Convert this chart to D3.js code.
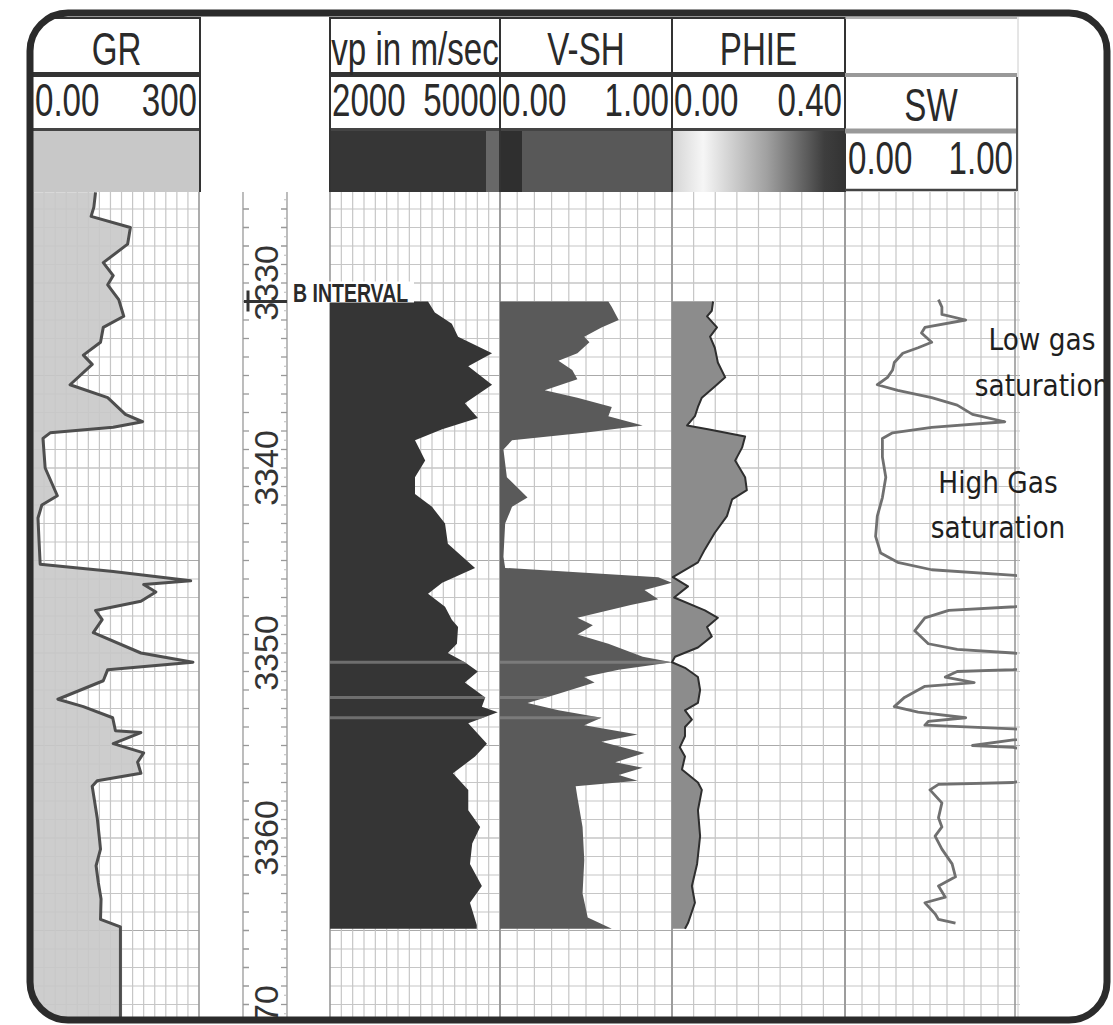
<!DOCTYPE html>
<html>
<head>
<meta charset="utf-8">
<style>
  body { margin: 0; background: #fff; }
  svg { display: block; }
</style>
</head>
<body>
<svg id="chart" width="1113" height="1025"></svg>
<script src="https://cdn.jsdelivr.net/npm/d3@7"></script>
<script>
// ---- data (depth in m, value in track units) ----
const depthLabels = [3330, 3340, 3350, 3360, 3370];
const trackTitles = ["GR", "vp in m/sec", "V-SH", "PHIE", "SW"];
const scaleLabels = [["0.00", "300"], ["2000", "5000"], ["0.00", "1.00"], ["0.00", "0.40"], ["0.00", "1.00"]];
const trackDomains = [[0, 300], [2000, 5000], [0, 1], [0, 0.4], [0, 1]];

const grLog = [
  [3325.1, 113], [3325.9, 110], [3326.4, 105], [3327.0, 176], [3327.9, 171], [3328.9, 127], [3329.6, 145],
  [3330.1, 135], [3330.9, 155], [3331.8, 164], [3332.4, 127], [3333.2, 122], [3333.9, 91], [3334.4, 107],
  [3335.5, 67], [3336.2, 135], [3337.1, 167], [3337.5, 198], [3337.8, 145], [3338.1, 31], [3338.4, 18],
  [3339.2, 20], [3340.0, 22], [3341.5, 44], [3342.0, 16], [3342.7, 9], [3344.0, 11], [3345.2, 13],
  [3345.6, 145], [3346.1, 285], [3346.3, 200], [3346.7, 222], [3347.2, 195], [3347.7, 113], [3348.2, 125],
  [3348.9, 109], [3350.0, 195], [3350.5, 289], [3350.9, 135], [3351.5, 127], [3352.5, 45], [3352.9, 91],
  [3353.5, 144], [3354.2, 149], [3354.3, 195], [3354.9, 145], [3355.4, 200], [3355.9, 189], [3356.5, 195],
  [3356.9, 116], [3357.2, 107], [3358.9, 116], [3360.0, 120], [3360.6, 122], [3361.5, 114], [3362.4, 118],
  [3363.3, 123], [3364.4, 122], [3364.8, 158], [3370.0, 158]
];

const vpLog = [
  [3331.0, 3730], [3331.6, 3850], [3332.2, 4150], [3332.9, 4260], [3333.8, 4860], [3334.5, 4440],
  [3335.5, 4860], [3336.5, 4380], [3337.3, 4610], [3337.9, 3980], [3338.5, 3500], [3339.6, 3680],
  [3340.5, 3500], [3341.4, 3500], [3342.1, 3800], [3343.0, 4030], [3344.1, 4080], [3345.4, 4560],
  [3346.2, 3980], [3346.8, 3730], [3347.5, 4030], [3348.2, 4150], [3348.6, 4260], [3349.5, 4240],
  [3350.0, 4080], [3350.5, 4380], [3351.0, 4610], [3351.6, 4380], [3352.4, 4740], [3352.9, 4680],
  [3353.2, 4960], [3353.8, 4440], [3354.9, 4770], [3355.6, 4560], [3356.5, 4170], [3357.4, 4440],
  [3358.5, 4440], [3359.4, 4650], [3360.3, 4510], [3361.4, 4470], [3362.6, 4680], [3363.5, 4470],
  [3364.7, 4590], [3364.9, 4590]
];

const vshLog = [
  [3331.0, 0.63], [3331.3, 0.65], [3332.0, 0.69], [3332.4, 0.59], [3332.9, 0.49], [3333.2, 0.52],
  [3333.8, 0.45], [3334.2, 0.34], [3334.7, 0.42], [3335.2, 0.45], [3335.8, 0.26], [3336.2, 0.45],
  [3336.7, 0.65], [3337.2, 0.63], [3337.7, 0.83], [3338.1, 0.49], [3338.5, 0.07], [3339.0, 0.02],
  [3340.5, 0.04], [3341.6, 0.16], [3342.1, 0.07], [3343.0, 0.03], [3344.8, 0.02], [3345.4, 0.03],
  [3345.9, 0.92], [3346.2, 1.00], [3346.6, 0.84], [3347.1, 0.92], [3347.4, 0.76], [3348.1, 0.45],
  [3348.5, 0.54], [3349.0, 0.45], [3349.5, 0.63], [3350.2, 0.83], [3350.5, 1.00], [3350.9, 0.69],
  [3351.3, 0.49], [3351.6, 0.55], [3352.2, 0.34], [3352.7, 0.16], [3353.1, 0.34], [3353.5, 0.59],
  [3353.9, 0.49], [3354.4, 0.80], [3354.8, 0.59], [3355.4, 0.84], [3355.9, 0.67], [3356.2, 0.83],
  [3356.6, 0.69], [3356.9, 0.80], [3357.2, 0.44], [3357.8, 0.45], [3359.4, 0.48], [3361.2, 0.49],
  [3363.0, 0.48], [3364.3, 0.51], [3364.9, 0.65]
];

const phieLog = [
  [3331.0, 0.095], [3331.5, 0.092], [3331.8, 0.081], [3332.4, 0.104], [3332.9, 0.088], [3333.5, 0.099],
  [3334.3, 0.106], [3335.1, 0.123], [3335.6, 0.099], [3336.2, 0.069], [3336.7, 0.060], [3337.2, 0.053],
  [3337.7, 0.035], [3337.9, 0.083], [3338.3, 0.169], [3338.9, 0.162], [3339.6, 0.146], [3340.5, 0.169],
  [3341.2, 0.173], [3341.7, 0.139], [3342.6, 0.127], [3343.5, 0.099], [3344.4, 0.076], [3345.1, 0.060],
  [3345.9, 0.002], [3346.4, 0.037], [3347.0, 0.005], [3347.7, 0.076], [3348.1, 0.106], [3348.6, 0.081],
  [3349.1, 0.092], [3349.7, 0.060], [3350.2, 0.007], [3350.5, 0.000], [3350.8, 0.030], [3351.3, 0.060],
  [3352.0, 0.065], [3352.7, 0.060], [3353.1, 0.030], [3353.6, 0.046], [3354.0, 0.030], [3354.5, 0.030],
  [3355.1, 0.018], [3355.6, 0.030], [3356.3, 0.023], [3357.0, 0.060], [3357.4, 0.069], [3358.5, 0.060],
  [3359.9, 0.065], [3361.4, 0.058], [3362.6, 0.046], [3363.5, 0.053], [3364.6, 0.037], [3364.9, 0.030]
];

// values above 1 run off the right edge of the track
const swLog = [
  [3330.9, 0.55], [3331.3, 0.57], [3331.7, 0.57], [3332.0, 0.71], [3332.4, 0.47], [3332.7, 0.45],
  [3333.2, 0.51], [3333.5, 0.43], [3333.8, 0.34], [3334.3, 0.29], [3334.7, 0.28], [3335.1, 0.25],
  [3335.5, 0.19], [3335.8, 0.31], [3336.2, 0.51], [3336.6, 0.66], [3337.1, 0.75], [3337.5, 0.94],
  [3337.8, 0.51], [3338.1, 0.28], [3338.4, 0.22], [3339.4, 0.22], [3340.5, 0.24], [3341.6, 0.22],
  [3342.6, 0.19], [3343.7, 0.18], [3344.6, 0.21], [3345.1, 0.31], [3345.5, 0.51], [3345.8, 1.00],
  [3346.6, 1.60], [3347.5, 1.00], [3347.7, 0.61], [3348.1, 0.47], [3348.8, 0.41], [3349.5, 0.49],
  [3349.8, 0.66], [3350.0, 0.99], [3350.5, 1.50], [3350.9, 0.99], [3351.0, 0.66], [3351.3, 0.59],
  [3351.6, 0.76], [3351.8, 0.47], [3352.4, 0.35], [3352.9, 0.29], [3353.2, 0.43], [3353.5, 0.71],
  [3353.7, 0.49], [3353.9, 0.47], [3354.1, 0.99], [3354.4, 1.40], [3354.7, 0.99], [3355.0, 0.75],
  [3355.1, 0.99], [3356.1, 1.50], [3357.0, 0.99], [3357.1, 0.55], [3357.4, 0.50], [3358.1, 0.57],
  [3358.9, 0.55], [3359.4, 0.57], [3359.9, 0.53], [3360.6, 0.57], [3361.4, 0.63], [3362.1, 0.65],
  [3362.6, 0.55], [3363.2, 0.59], [3363.5, 0.47], [3364.1, 0.53], [3364.4, 0.55], [3364.6, 0.65]
];

const stripeDepths = [3350.5, 3352.4, 3353.5];
const markerDepth = 3331.0;
const markerLabel = "B INTERVAL";
const notes = [["Low gas", "saturation"], ["High Gas", "saturation"]];

// ---- layout ----
const trackX = [[33, 199], [330, 500], [500, 672], [672, 845], [845, 1015]];
const dataTop = 192, dataBottom = 1020;
const headFont = "'Liberation Sans', Arial, sans-serif";

const svg = d3.select("#chart");
const defs = svg.append("defs");

defs.append("clipPath").attr("id", "frameClip")
  .append("rect").attr("x", 30).attr("y", 13).attr("width", 1077).attr("height", 1007).attr("rx", 38);

const grad = defs.append("linearGradient").attr("id", "phieGrad");
[["0%", "#d4d4d4"], ["18%", "#f6f6f6"], ["55%", "#a0a0a0"], ["88%", "#3e3e3e"], ["100%", "#333"]]
  .forEach(([o, c]) => grad.append("stop").attr("offset", o).attr("stop-color", c));

const y = d3.scaleLinear().domain([3325, 3370]).range([190.5, 1023]);
const xs = trackX.map((r, i) => d3.scaleLinear().domain(trackDomains[i]).range(r));

const body = svg.append("g").attr("clip-path", "url(#frameClip)");

// grid
const grid = body.append("g");
const depthTicks = d3.range(3326, 3370);
trackX.forEach(([x0, x1], i) => {
  const right = i === 4 ? 1020 : x1;
  grid.selectAll(null).data(depthTicks).enter().append("line")
    .attr("x1", x0).attr("x2", right)
    .attr("y1", d => y(d)).attr("y2", d => y(d))
    .attr("stroke", d => d % 5 === 0 ? "#aaa" : "#c6c6c6").attr("stroke-width", 1.2);
  const vx = xs[i].ticks(10);
  grid.selectAll(null).data(vx).enter().append("line")
    .attr("x1", d => xs[i](d)).attr("x2", d => xs[i](d))
    .attr("y1", dataTop).attr("y2", dataBottom)
    .attr("stroke", (d, j) => (j === 0 || j === vx.length - 1) ? "#999" : "#c6c6c6")
    .attr("stroke-width", (d, j) => (j === 0 || j === vx.length - 1) ? 1.6 : 1.2);
});
body.append("line").attr("x1", 1018).attr("x2", 1018).attr("y1", 17).attr("y2", dataBottom)
  .attr("stroke", "#ccc").attr("stroke-width", 1);

// fills
function areaFor(i) {
  return d3.area().y(d => y(d[0])).x0(trackX[i][0]).x1(d => xs[i](d[1]));
}
function lineFor(i) {
  return d3.line().y(d => y(d[0])).x(d => xs[i](d[1]));
}

body.append("path").datum(grLog).attr("d", areaFor(0)).attr("fill", "#c8c8c8").attr("fill-opacity", 0.9);
body.append("path").datum(vpLog).attr("d", areaFor(1)).attr("fill", "#353535");
body.append("path").datum(vshLog).attr("d", areaFor(2)).attr("fill", "#5a5a5a");
body.append("path").datum(phieLog).attr("d", areaFor(3)).attr("fill", "#8c8c8c");

// light stripes through the vp / V-SH fills
[[1, vpLog], [2, vshLog]].forEach(([i, log]) => {
  defs.append("clipPath").attr("id", "fillClip" + i).append("path").datum(log).attr("d", areaFor(i));
  body.append("g").attr("clip-path", `url(#fillClip${i})`)
    .selectAll("line").data(stripeDepths).enter().append("line")
    .attr("x1", trackX[i][0]).attr("x2", trackX[i][1])
    .attr("y1", d => y(d)).attr("y2", d => y(d))
    .attr("stroke", "#8e8e8e").attr("stroke-width", 3).attr("opacity", 0.65);
});

// curves
body.append("path").datum(grLog).attr("d", lineFor(0)).attr("fill", "none")
  .attr("stroke", "#4e4e4e").attr("stroke-width", 3).attr("stroke-linejoin", "round");
body.append("path").datum(phieLog).attr("d", lineFor(3)).attr("fill", "none")
  .attr("stroke", "#2e2e2e").attr("stroke-width", 2).attr("stroke-linejoin", "round");
defs.append("clipPath").attr("id", "swClip")
  .append("rect").attr("x", 845).attr("y", dataTop).attr("width", 172).attr("height", dataBottom - dataTop);
body.append("path").datum(swLog).attr("d", lineFor(4)).attr("fill", "none")
  .attr("clip-path", "url(#swClip)")
  .attr("stroke", "#707070").attr("stroke-width", 2.8).attr("stroke-linejoin", "round");

// depth track
const dt = body.append("g");
[243, 287].forEach(x => dt.append("line").attr("x1", x).attr("x2", x)
  .attr("y1", dataTop).attr("y2", dataBottom).attr("stroke", "#999").attr("stroke-width", 1.3));
dt.selectAll(".tl").data(depthTicks).enter().append("line")
  .attr("x1", 243).attr("x2", 249).attr("y1", d => y(d)).attr("y2", d => y(d))
  .attr("stroke", "#999").attr("stroke-width", 1.3);
dt.selectAll(".tr").data(depthTicks).enter().append("line")
  .attr("x1", 281).attr("x2", 287).attr("y1", d => y(d)).attr("y2", d => y(d))
  .attr("stroke", "#999").attr("stroke-width", 1.3);
dt.selectAll(".tm").data(d3.range(3325.5, 3370, 0.5).filter(d => d % 1 !== 0)).enter().append("line")
  .attr("x1", 284).attr("x2", 287).attr("y1", d => y(d)).attr("y2", d => y(d))
  .attr("stroke", "#bbb").attr("stroke-width", 1);
dt.selectAll("text").data(depthLabels).enter().append("text")
  .attr("transform", d => `translate(278,${y(d)}) rotate(-90)`)
  .attr("text-anchor", "middle")
  .style("font", `34px ${headFont}`).attr("fill", "#333")
  .text(d => d);

// B interval marker
const my = y(markerDepth);
dt.append("line").attr("x1", 244).attr("x2", 287).attr("y1", my).attr("y2", my)
  .attr("stroke", "#333").attr("stroke-width", 3);
dt.append("line").attr("x1", 248).attr("x2", 248).attr("y1", my - 11).attr("y2", my + 10)
  .attr("stroke", "#333").attr("stroke-width", 3);
dt.append("rect").attr("x", 290).attr("y", my - 20).attr("width", 124).attr("height", 21).attr("fill", "#fff");
dt.append("text").attr("transform", `translate(293,${my}) scale(0.75,1)`)
  .style("font", `bold 26px ${headFont}`).attr("fill", "#2a2a2a").text(markerLabel);

// header
const head = body.append("g");
function txt(x, yy, s, anchor, size, sx) {
  head.append("text").attr("transform", `translate(${x},${yy}) scale(${sx},1)`)
    .attr("text-anchor", anchor).style("font", `${size}px ${headFont}`)
    .attr("fill", "#2a2a2a").text(s);
}
function hline(x0, x1, yy, w, c) {
  head.append("line").attr("x1", x0).attr("x2", x1).attr("y1", yy).attr("y2", yy)
    .attr("stroke", c).attr("stroke-width", w);
}
function vline(x, y0, y1, w, c) {
  head.append("line").attr("x1", x).attr("x2", x).attr("y1", y0).attr("y2", y1)
    .attr("stroke", c).attr("stroke-width", w);
}

// swatches
head.append("rect").attr("x", 33).attr("y", 131).attr("width", 167).attr("height", 61).attr("fill", "#c8c8c8");
head.append("rect").attr("x", 330).attr("y", 131).attr("width", 156).attr("height", 61).attr("fill", "#363636");
head.append("rect").attr("x", 486).attr("y", 131).attr("width", 14).attr("height", 61).attr("fill", "#686868");
head.append("rect").attr("x", 500).attr("y", 131).attr("width", 22).attr("height", 61).attr("fill", "#2f2f2f");
head.append("rect").attr("x", 522).attr("y", 131).attr("width", 150).attr("height", 61).attr("fill", "#585858");
head.append("rect").attr("x", 672).attr("y", 131).attr("width", 173).attr("height", 61).attr("fill", "url(#phieGrad)");

const boxL = [33, 330, 500, 672];
const boxR = [200, 500, 672, 845];
const hs = 46, hx = 0.72;
boxL.forEach((x0, i) => {
  const x1 = boxR[i];
  hline(x0, x1, 18, 2, "#333");
  hline(x0, x1, 74.5, 5, "#333");
  hline(x0, x1, 129.5, 3, "#444");
  txt((x0 + x1) / 2, 65, trackTitles[i], "middle", hs, hx);
  txt(x0 + 2, 116, scaleLabels[i][0], "start", hs, hx);
  txt(x1 - 3, 116, scaleLabels[i][1], "end", hs, hx);
});
[200, 330, 500, 672, 845].forEach(x => vline(x, 17, 192, 2, "#333"));

// SW header
hline(845, 1017, 18, 1.5, "#999");
hline(845, 1017, 75, 4, "#999");
hline(845, 1017, 131, 5, "#999");
hline(845, 1017, 190, 2.5, "#444");
vline(1017, 77, 191, 2, "#555");
txt(931, 121, trackTitles[4], "middle", hs, hx);
txt(848, 174, scaleLabels[4][0], "start", hs, hx);
txt(1013, 174, scaleLabels[4][1], "end", hs, hx);

// annotations
const noteFont = "'DejaVu Sans', sans-serif";
const noteAt = [[1042, 350, 396], [998, 493, 538]];
notes.forEach((lines, i) => {
  lines.forEach((s, j) => {
    body.append("text")
      .attr("transform", `translate(${noteAt[i][0]},${noteAt[i][1 + j]}) scale(0.88,1)`)
      .attr("text-anchor", "middle").style("font", `30px ${noteFont}`)
      .attr("fill", "#1e1e1e").text(s);
  });
});

// frame
svg.append("rect").attr("x", 30).attr("y", 13).attr("width", 1077).attr("height", 1007).attr("rx", 38)
  .attr("fill", "none").attr("stroke", "#2b2b2b").attr("stroke-width", 7);
</script>
</body>
</html>
